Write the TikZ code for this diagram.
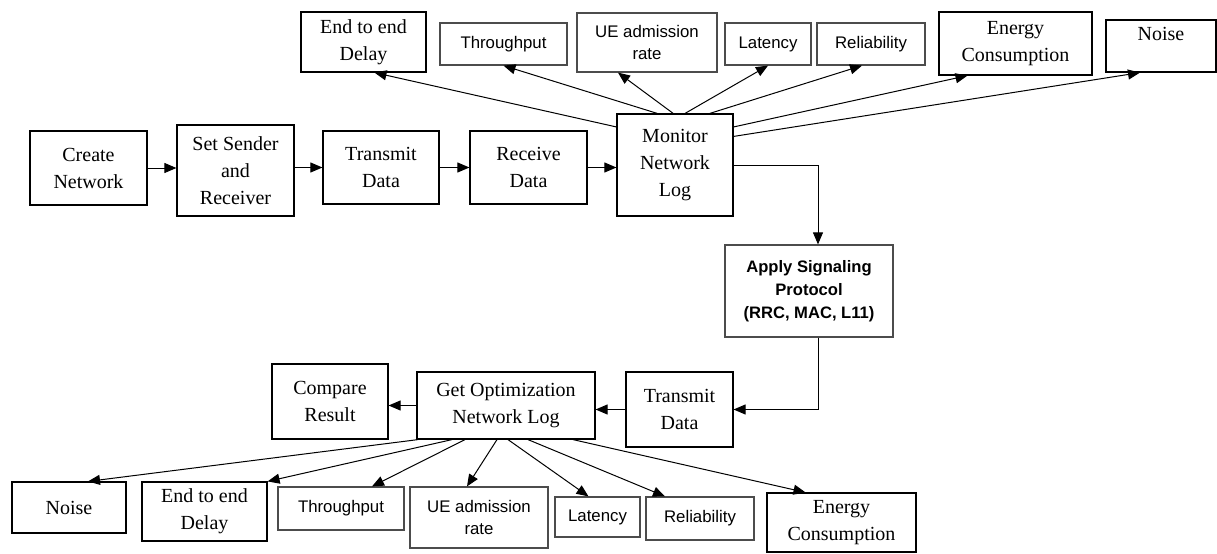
\documentclass[tikz,border=0pt]{standalone}
\usepackage{fontspec}
\setmainfont{Liberation Serif}
\setsansfont{Liberation Sans}
\usetikzlibrary{shapes,arrows.meta,positioning,calc}

\tikzset{
    blk/.style={draw=black, line width=0.6pt, align=center, inner sep=0pt,
        font=\fontsize{10}{13.5}\selectfont},
    sblk/.style={blk, draw=black!70, font=\sffamily\fontsize{8.4}{11}\selectfont},
    arr/.style={-{Triangle[length=6pt,width=5pt]}, line width=0.5pt},
}

\begin{document}
\begin{tikzpicture}[x=0.5pt,y=-0.5pt]
    \useasboundingbox (0,0) rectangle (1217,553);

    % Metrics on top
    \node[blk, minimum width=62.5pt, minimum height=30pt] (tdel) at (363.5,42) {End to end\\Delay};
    \node[sblk, minimum width=63.5pt, minimum height=21pt] (tthr) at (503.5,44) {Throughput};
    \node[sblk, minimum width=70pt, minimum height=29.5pt] (tue) at (647,42.5) {UE admission\\rate};
    \node[sblk, minimum width=43pt, minimum height=21pt] (tlat) at (768,44) {Latency};
    \node[sblk, minimum width=54pt, minimum height=21pt] (trel) at (871,44) {Reliability};
    \node[blk, minimum width=76.5pt, minimum height=31.5pt] (teng) at (1015.5,43.5) {Energy\\Consumption};
    \node[blk, minimum width=55pt, minimum height=26pt, text depth=12pt] (tnoi) at (1161,46) {Noise};

    % Main row
    \node[blk, minimum width=58.5pt, minimum height=37pt] (create) at (88.5,168) {Create\\Network};
    \node[blk, minimum width=58.5pt, minimum height=45.5pt] (setsr) at (235.5,170.5) {Set Sender\\and\\Receiver};
    \node[blk, minimum width=58pt, minimum height=36.5pt] (trans) at (381,167.5) {Transmit\\Data};
    \node[blk, minimum width=58.5pt, minimum height=36.5pt] (recv) at (528.5,167.5) {Receive\\Data};
    \node[blk, minimum width=58pt, minimum height=51pt] (mon) at (675,165) {Monitor\\Network\\Log};

    % Signaling
    \node[sblk, font=\sffamily\bfseries\fontsize{8.3}{11.5}\selectfont,
        minimum width=84pt, minimum height=46pt] (apply) at (809,291) {Apply Signaling\\Protocol\\(RRC, MAC, L11)};

    % Second row
    \node[blk, minimum width=53.5pt, minimum height=37.5pt] (trans2) at (679.5,409.5) {Transmit\\Data};
    \node[blk, minimum width=89pt, minimum height=33.5pt] (getopt) at (506,405.5) {Get Optimization\\Network Log};
    \node[blk, minimum width=58pt, minimum height=37.5pt] (comp) at (330,401.5) {Compare\\Result};

    % Metrics at the bottom
    \node[blk, minimum width=57pt, minimum height=25.5pt] (bnoi) at (69,507.5) {Noise};
    \node[blk, minimum width=62.5pt, minimum height=29.5pt] (bdel) at (204.5,511.5) {End to end\\Delay};
    \node[sblk, minimum width=63pt, minimum height=21.5pt] (bthr) at (341,508.5) {Throughput};
    \node[sblk, minimum width=69pt, minimum height=30.5pt] (bue) at (479,517.5) {UE admission\\rate};
    \node[sblk, minimum width=42.5pt, minimum height=20pt] (blat) at (597.5,517) {Latency};
    \node[sblk, minimum width=54pt, minimum height=21.5pt] (brel) at (700,518.5) {Reliability};
    \node[blk, minimum width=74.5pt, minimum height=29.5pt] (beng) at (841.5,522.5) {Energy\\Consumption};

    % Flow
    \draw[arr] (create.east) -- (create.east -| setsr.west);
    \draw[arr] (setsr.east |- trans.west) -- (trans.west);
    \draw[arr] (trans.east) -- (trans.east -| recv.west);
    \draw[arr] (recv.east) -- (recv.east -| mon.west);
    \draw[arr] (mon.east) -| ($(apply.north)+(9,0)$);
    \draw[arr] ($(apply.south)+(9,0)$) |- (trans2.east);
    \draw[arr] (trans2.west) -- (trans2.west -| getopt.east);
    \draw[arr] (getopt.west) -- (getopt.west -| comp.east);

    % Monitoring
    \draw[arr] (mon.147) -- ($(tdel.south)+(11,0)$);
    \draw[arr] (mon.109) -- (tthr.south);
    \draw[arr] (mon.92) -- ($(tue.south)+(-29,0)$);
    \draw[arr] (mon.79) -- (tlat.south);
    \draw[arr] (mon.56) -- ($(trel.south)+(-9,0)$);
    \draw[arr] (mon.33) -- ($(teng.south)+(-48,0)$);
    \draw[arr] (mon.26) -- ($(tnoi.south)+(-21,0)$);

    % Optimized results
    \draw[arr] ($(getopt.south)+(-88,0)$) -- ($(bnoi.north)+(19,0)$);
    \draw[arr] ($(getopt.south)+(-54,0)$) -- (bdel.north east);
    \draw[arr] ($(getopt.south)+(-41,0)$) -- ($(bthr.north)+(31,0)$);
    \draw[arr] ($(getopt.south)+(-9,0)$) -- ($(bue.north)+(-12,0)$);
    \draw[arr] ($(getopt.south)+(2,0)$) -- ($(blat.north)+(-9,0)$);
    \draw[arr] ($(getopt.south)+(22,0)$) -- ($(brel.north)+(-35,0)$);
    \draw[arr] ($(getopt.south)+(67,0)$) -- ($(beng.north)+(-36,0)$);
\end{tikzpicture}
\end{document}
